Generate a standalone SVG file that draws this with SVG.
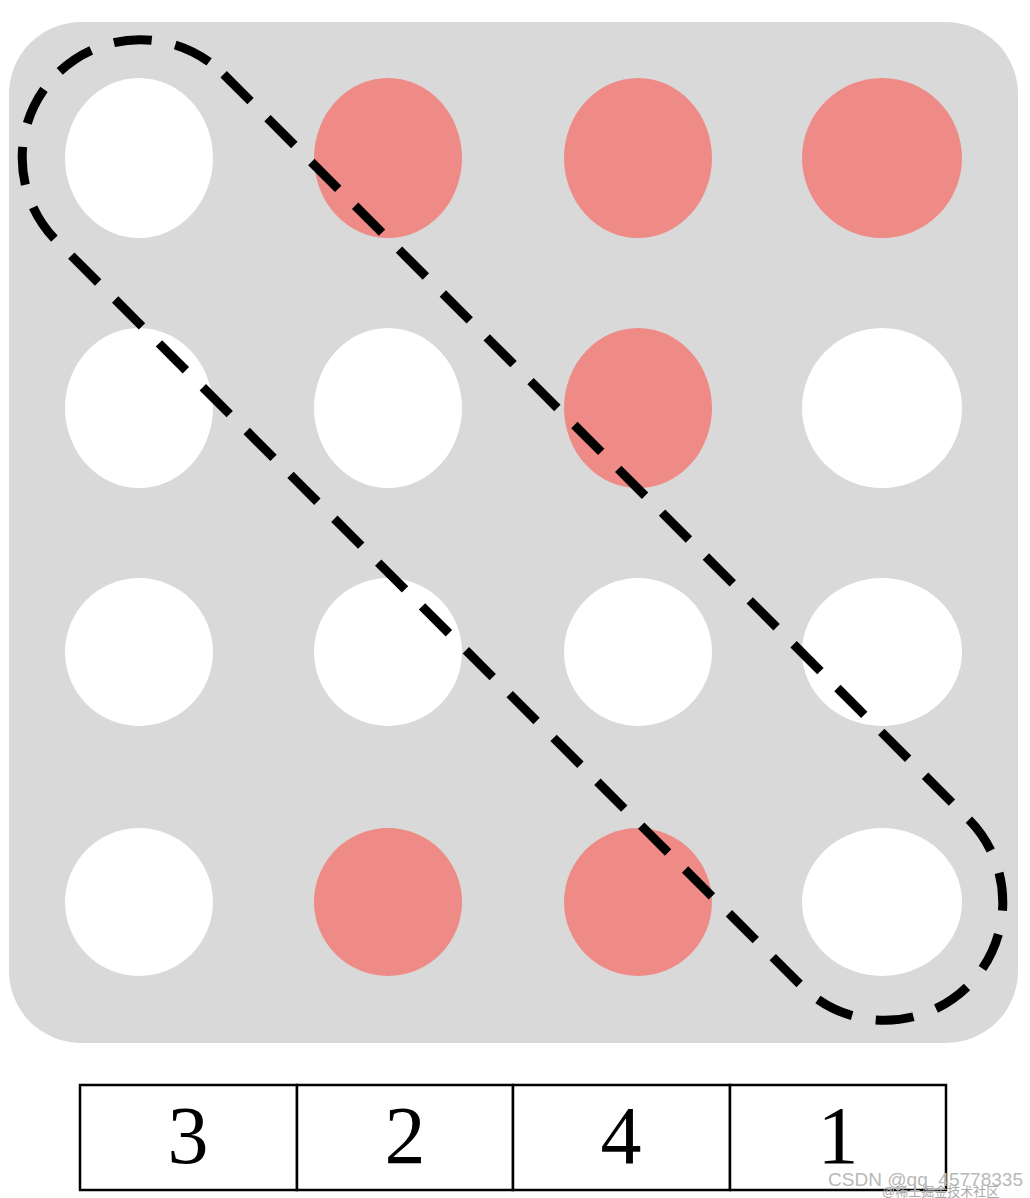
<svg xmlns="http://www.w3.org/2000/svg" width="1030" height="1198" viewBox="0 0 1030 1198">
<style>
.w{fill:#ffffff}
.r{fill:#ef8b86}
.cell{fill:#ffffff;stroke:#000;stroke-width:2.5}
.num{font-family:"Liberation Serif","Times New Roman",serif;font-size:82px;fill:#000;text-anchor:middle}
.wm{font-family:"Liberation Sans",Arial,sans-serif;font-size:18px;fill:#b8b8b8}
.wm2{font-family:"Liberation Sans","Noto Sans CJK SC",sans-serif;font-size:13px;fill:#a8a8a8}
</style>
<rect id="board" x="9" y="22" width="1009" height="1021" rx="72" fill="#d9d9d9"/>
<g id="holes">
<ellipse class="w" cx="139" cy="158" rx="74" ry="80"/>
<ellipse class="r" cx="388" cy="158" rx="74" ry="80"/>
<ellipse class="r" cx="638" cy="158" rx="74" ry="80"/>
<ellipse class="r" cx="882" cy="158" rx="80" ry="80"/>
<ellipse class="w" cx="139" cy="408" rx="74" ry="80"/>
<ellipse class="w" cx="388" cy="408" rx="74" ry="80"/>
<ellipse class="r" cx="638" cy="408" rx="74" ry="80"/>
<ellipse class="w" cx="882" cy="408" rx="80" ry="80"/>
<ellipse class="w" cx="139" cy="652" rx="74" ry="74"/>
<ellipse class="w" cx="388" cy="652" rx="74" ry="74"/>
<ellipse class="w" cx="638" cy="652" rx="74" ry="74"/>
<ellipse class="w" cx="882" cy="652" rx="80" ry="74"/>
<ellipse class="w" cx="139" cy="902" rx="74" ry="74"/>
<ellipse class="r" cx="388" cy="902" rx="74" ry="74"/>
<ellipse class="r" cx="638" cy="902" rx="74" ry="74"/>
<ellipse class="w" cx="882" cy="902" rx="80" ry="74"/>
</g>
<g id="diagonal">
<rect x="-644.5" y="-118" width="1289" height="236" rx="118" transform="translate(512.5 530) rotate(45)" fill="none" stroke="#000" stroke-width="9" stroke-dasharray="38 24"/>
</g>
<g id="table">
<rect class="cell" x="80" y="1085" width="217" height="105"/>
<rect class="cell" x="297" y="1085" width="216" height="105"/>
<rect class="cell" x="513" y="1085" width="217" height="105"/>
<rect class="cell" x="730" y="1085" width="216" height="105"/>
<text class="num" x="188" y="1163">3</text>
<text class="num" x="405" y="1163">2</text>
<text class="num" x="621" y="1163">4</text>
<text class="num" x="838" y="1163">1</text>
</g>
<g id="watermark">
<text class="wm" x="828" y="1186" textLength="195" lengthAdjust="spacingAndGlyphs">CSDN @qq_45778335</text>
<text class="wm2" x="882" y="1196">@稀土掘金技术社区</text>
</g>
</svg>
